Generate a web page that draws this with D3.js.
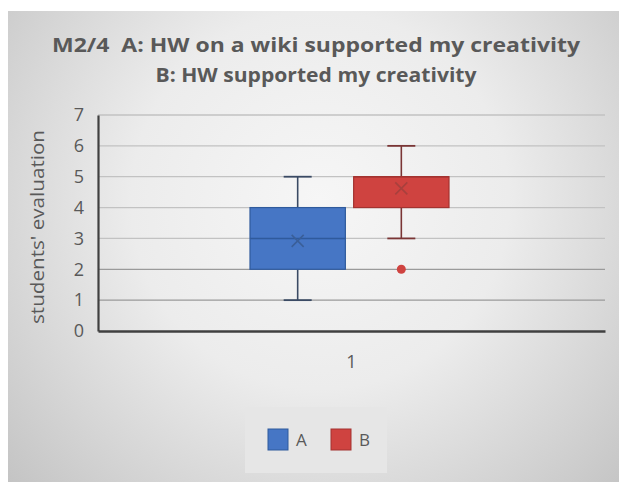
<!DOCTYPE html>
<html>
<head>
<meta charset="utf-8">
<script src="https://cdn.jsdelivr.net/npm/d3@7/dist/d3.min.js"></script>
<style>
  html, body { margin: 0; padding: 0; background: #ffffff; }
  svg { display: block; }
  text { font-family: "Open Sans", "Noto Sans", "DejaVu Sans", sans-serif; fill: #595959; }
</style>
</head>
<body>
<svg id="chart" width="619" height="482"></svg>
<script>
// Box-plot summaries for each series (category "1")
const categories = ["1"];
const seriesNames = ["A", "B"];
const minimum   = [1, 3];
const quartile1 = [2, 4];
const median    = [3, 5];
const quartile3 = [4, 5];
const maximum   = [5, 6];
const mean      = [2.92, 4.62];
const outliers  = [[], [2]];
const yTicks    = [0, 1, 2, 3, 4, 5, 6, 7];
const titleLines = ["M2/4  A: HW on a wiki supported my creativity", "B: HW supported my creativity"];
const yTitle = "students' evaluation";

const fills   = ["#4676c5", "#cf4340"];
const strokes = ["#2f5a9c", "#a33330"];
const whisk   = ["#3a4a64", "#7a3535"];
const marks   = ["#3a5f99", "#a8403d"];

const svg = d3.select("#chart");
const W = 619, H = 482;

// Chart panel with soft radial shading
const defs = svg.append("defs");
const grad = defs.append("radialGradient").attr("id", "bg")
  .attr("gradientUnits", "userSpaceOnUse")
  .attr("cx", 320).attr("cy", 200).attr("r", 420);
grad.append("stop").attr("offset", "0%").attr("stop-color", "#f6f6f6");
grad.append("stop").attr("offset", "45%").attr("stop-color", "#ececec");
grad.append("stop").attr("offset", "100%").attr("stop-color", "#c4c4c4");
svg.append("rect").attr("x", 8).attr("y", 11).attr("width", W - 8).attr("height", H - 11)
  .attr("fill", "url(#bg)");

// Title (fitted to its line width with a narrower glyph set)
const title = svg.append("g");
const titleY = [52, 82];
const titleW = [528, 321];
titleLines.forEach((t, i) => {
  title.append("text").attr("x", 316).attr("y", titleY[i])
    .attr("text-anchor", "middle").attr("font-weight", "bold")
    .attr("font-size", 19.5).style("fill", "#595959").style("white-space", "pre")
    .attr("textLength", titleW[i]).attr("lengthAdjust", "spacingAndGlyphs")
    .text(t);
});

// Plot area
const plot = { left: 98, right: 605, top: 115, bottom: 331 };
const y = d3.scaleLinear().domain([0, 7]).range([plot.bottom, plot.top]);
const x = d3.scaleBand().domain(categories).range([plot.left, plot.right]);
const xs = d3.scaleBand().domain(seriesNames).range([x("1") + 152, x("1") + 351]).paddingInner(0.08);

// Gridlines
svg.append("g").selectAll("line").data(yTicks.filter(d => d > 0)).join("line")
  .attr("x1", plot.left).attr("x2", plot.right)
  .attr("y1", d => y(d)).attr("y2", d => y(d))
  .attr("stroke", d => d <= 2 ? "#9a9a9a" : "#c2c2c2").attr("stroke-width", 1.3);

// Y axis
const yAxis = svg.append("g").attr("transform", `translate(${plot.left},0)`)
  .call(d3.axisLeft(y).tickValues(yTicks).tickFormat(d3.format("d")).tickSize(0).tickPadding(14));
yAxis.select(".domain").attr("stroke", "#404040").attr("stroke-width", 2.2);
yAxis.selectAll("text").attr("font-size", 18).style("fill", "#595959")
  .style("font-family", "'Open Sans', sans-serif");

// X axis
const xAxis = svg.append("g").attr("transform", `translate(0,${plot.bottom})`)
  .call(d3.axisBottom(x).tickSize(0).tickPadding(24));
xAxis.select(".domain").attr("stroke", "#404040").attr("stroke-width", 2.4);
xAxis.selectAll("text").attr("font-size", 18).style("fill", "#595959")
  .style("font-family", "'Open Sans', sans-serif");

// Y title
svg.append("text")
  .attr("transform", `translate(44,${(plot.top + plot.bottom) / 2 + 4}) rotate(-90)`)
  .attr("text-anchor", "middle").attr("font-size", 18).style("fill", "#595959")
  .attr("textLength", 194).attr("lengthAdjust", "spacingAndGlyphs")
  .text(yTitle);

// Boxes
seriesNames.forEach((s, i) => {
  const g = svg.append("g");
  const bx = xs(s), bw = xs.bandwidth(), cx = bx + bw / 2;
  const capW = 28;
  // whiskers
  g.append("line").attr("x1", cx).attr("x2", cx).attr("y1", y(maximum[i])).attr("y2", y(quartile3[i]))
    .attr("stroke", whisk[i]).attr("stroke-width", 1.6);
  g.append("line").attr("x1", cx).attr("x2", cx).attr("y1", y(quartile1[i])).attr("y2", y(minimum[i]))
    .attr("stroke", whisk[i]).attr("stroke-width", 1.6);
  [maximum[i], minimum[i]].forEach(v => {
    g.append("line").attr("x1", cx - capW / 2).attr("x2", cx + capW / 2).attr("y1", y(v)).attr("y2", y(v))
      .attr("stroke", whisk[i]).attr("stroke-width", 1.8);
  });
  // box
  g.append("rect").attr("x", bx).attr("width", bw)
    .attr("y", y(quartile3[i])).attr("height", y(quartile1[i]) - y(quartile3[i]))
    .attr("fill", fills[i]).attr("stroke", strokes[i]).attr("stroke-width", 1.2);
  // median
  g.append("line").attr("x1", bx).attr("x2", bx + bw).attr("y1", y(median[i])).attr("y2", y(median[i]))
    .attr("stroke", strokes[i]).attr("stroke-width", 1.4);
  // mean marker
  const m = 6, my = y(mean[i]);
  g.append("path").attr("d", `M${cx - m},${my - m}L${cx + m},${my + m}M${cx - m},${my + m}L${cx + m},${my - m}`)
    .attr("stroke", marks[i]).attr("stroke-width", 1.6).attr("fill", "none");
  // outliers
  g.selectAll("circle").data(outliers[i]).join("circle")
    .attr("cx", cx).attr("cy", d => y(d)).attr("r", 4.5).attr("fill", fills[i]);
});

// Legend
const lg = svg.append("g");
lg.append("rect").attr("x", 245).attr("y", 407).attr("width", 142).attr("height", 66)
  .attr("fill", "#e6e6e6");
const legX = [268, 331];
seriesNames.forEach((s, i) => {
  lg.append("rect").attr("x", legX[i]).attr("y", 429).attr("width", 20).attr("height", 21)
    .attr("fill", fills[i]).attr("stroke", strokes[i]).attr("stroke-width", 1);
  lg.append("text").attr("x", legX[i] + 28).attr("y", 446).attr("font-size", 17)
    .style("fill", "#595959").text(s);
});
</script>
</body>
</html>
